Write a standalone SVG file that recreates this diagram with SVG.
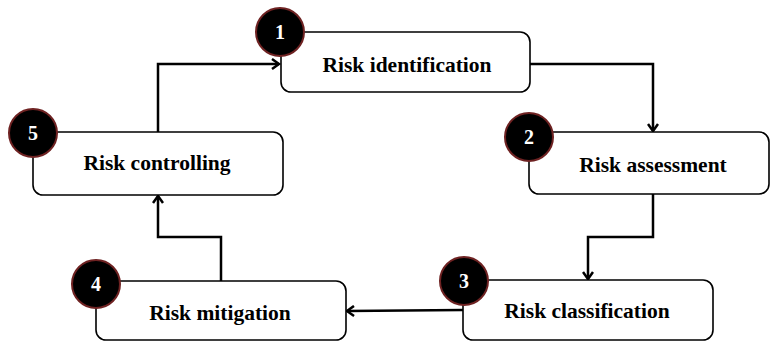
<svg xmlns="http://www.w3.org/2000/svg" width="771" height="342" viewBox="0 0 771 342">
<style>
.box{fill:#fff;stroke:#000;stroke-width:1.6}
.num{fill:#000;stroke:#6e2222;stroke-width:2}
.lbl{font-family:"Liberation Serif",serif;font-weight:bold;font-size:21.5px;fill:#000;text-anchor:middle}
.nt{font-family:"Liberation Serif",serif;font-weight:bold;font-size:20px;fill:#fff;text-anchor:middle}
.con{fill:none;stroke:#000;stroke-width:2.5;marker-end:url(#arr)}
</style>
<defs>
<marker id="arr" markerWidth="12" markerHeight="12" refX="9" refY="6" orient="auto" markerUnits="userSpaceOnUse">
<path d="M2,1 L9,6 L2,11" fill="none" stroke="#000" stroke-width="2.5"/>
</marker>
</defs>
<g id="connectors">
<path class="con" d="M158,132 V64 H279"/>
<path class="con" d="M530,64 H653 V131"/>
<path class="con" d="M653,194 V237 H588 V279"/>
<path class="con" d="M463,310 L347,311"/>
<path class="con" d="M221,281 V237 H158 V196"/>
</g>
<g id="node1">
<rect class="box" x="281" y="32" width="249" height="60" rx="10"/>
<text class="lbl" x="407" y="72">Risk identification</text>
<circle class="num" cx="280" cy="32" r="24"/>
<text class="nt" x="280" y="39">1</text>
</g>
<g id="node2">
<rect class="box" x="529" y="132" width="240" height="62" rx="10"/>
<text class="lbl" x="653" y="172">Risk assessment</text>
<circle class="num" cx="529" cy="137" r="24"/>
<text class="nt" x="529" y="144">2</text>
</g>
<g id="node3">
<rect class="box" x="463" y="280" width="250" height="60" rx="10"/>
<text class="lbl" x="587" y="318">Risk classification</text>
<circle class="num" cx="464" cy="281" r="24"/>
<text class="nt" x="464" y="288">3</text>
</g>
<g id="node4">
<rect class="box" x="96" y="281" width="250" height="59" rx="10"/>
<text class="lbl" x="220" y="320">Risk mitigation</text>
<circle class="num" cx="96" cy="284" r="24"/>
<text class="nt" x="96" y="291">4</text>
</g>
<g id="node5">
<rect class="box" x="33" y="132" width="250" height="63" rx="10"/>
<text class="lbl" x="157" y="170">Risk controlling</text>
<circle class="num" cx="33" cy="133" r="24"/>
<text class="nt" x="33" y="140">5</text>
</g>
</svg>
